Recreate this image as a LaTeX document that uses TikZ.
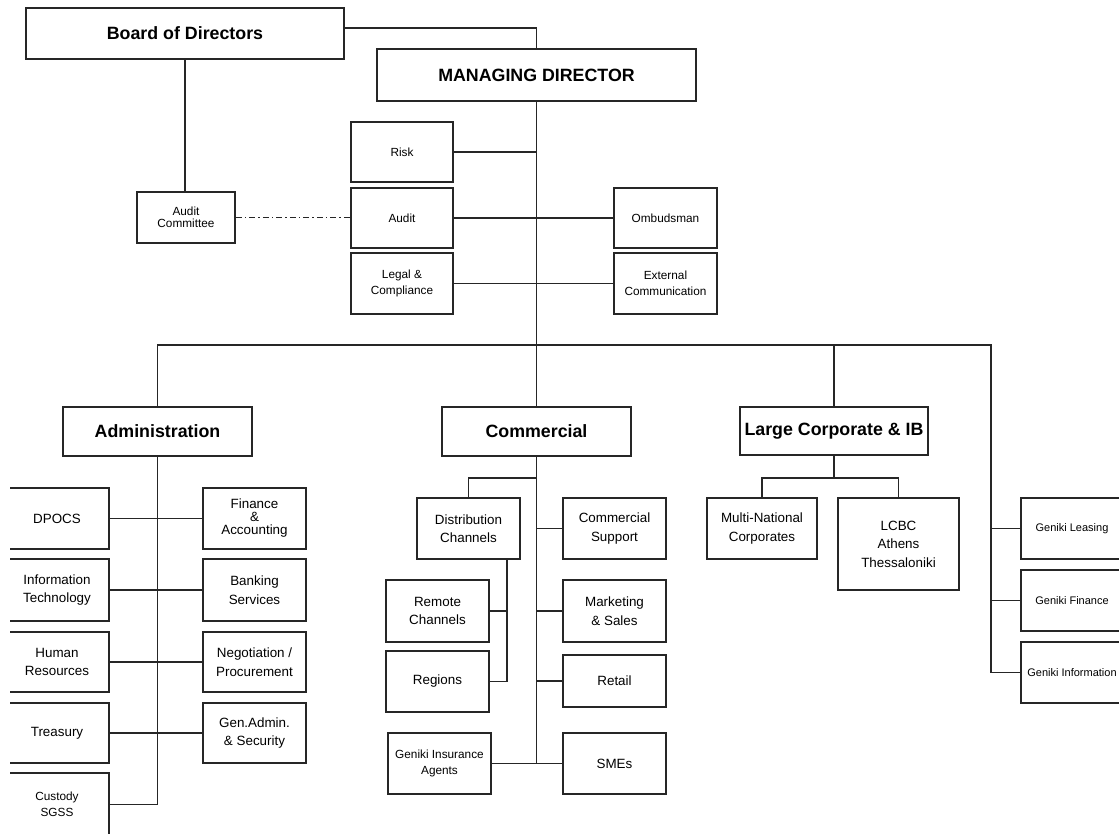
\documentclass[tikz,border=0pt]{standalone}
\usepackage{fontspec}
\setmainfont{Liberation Sans}
\begin{document}
\begin{tikzpicture}[x=1pt,y=-1pt,
  box/.style={draw=black!85, line width=1.6pt, fill=white, inner sep=1pt, align=center},
  head/.style={box, font=\bfseries\fontsize{17.8}{20}\selectfont},
  unit/.style={box, minimum width=103, minimum height=61, font=\fontsize{13.4}{18.5}\selectfont},
  office/.style={box, minimum width=102, minimum height=60, font=\fontsize{11.8}{15.5}\selectfont},
  firm/.style={box, minimum width=102, minimum height=61, font=\fontsize{11}{14}\selectfont},
  link/.style={draw=black!85, line width=1.6pt},
  dotlink/.style={link, line width=1.4pt, dash pattern=on 6pt off 3pt on 1.5pt off 3pt}]
\useasboundingbox (0,0) rectangle (1119,833);
\clip (10,0) rectangle (1119,833);

\node[head, minimum width=318, minimum height=51] (board) at (185,33.5) {Board of Directors};
\node[head, minimum width=319, minimum height=52] (md) at (536.5,75) {MANAGING DIRECTOR};

\node[office, minimum width=98, minimum height=51] (auditc) at (186,217.5) {Audit\\[-3.5pt]Committee};
\node[office] (risk) at (402,152) {Risk};
\node[office] (audit) at (402,218) {Audit};
\node[office, minimum height=61] (legal) at (402,283.5) {Legal \&\\Compliance};
\node[office, minimum width=103] (ombud) at (665.5,218) {Ombudsman};
\node[office, minimum width=103, minimum height=61] (extcom) at (665.5,283.5) {External\\Communication};

\node[head, minimum width=189, minimum height=49] (admin) at (157.5,431.5) {Administration};
\node[head, minimum width=189, minimum height=49] (comm) at (536.5,431.5) {Commercial};
\node[head, minimum width=188, minimum height=48] (lcib) at (834,431) {Large Corporate \& IB};

\node[unit, minimum width=104] (dpocs) at (57,518.5) {DPOCS};
\node[unit, minimum width=104, minimum height=62] (infotech) at (57,590) {Information\\Technology};
\node[unit, minimum width=104, minimum height=60] (hr) at (57,662) {Human\\Resources};
\node[unit, minimum width=104, minimum height=60] (treas) at (57,733) {Treasury};
\node[office, minimum width=104, minimum height=63] (cust) at (57,804.5) {Custody\\SGSS};
\node[unit] (finacc) at (254.5,518.5) {Finance\\[-5.5pt]\&\\[-5.5pt]Accounting};
\node[unit, minimum height=62] (banking) at (254.5,590) {Banking\\Services};
\node[unit, minimum height=60] (procure) at (254.5,662) {Negotiation /\\Procurement};
\node[unit, minimum height=60] (genadm) at (254.5,733) {Gen.Admin.\\\& Security};

\node[unit] (dist) at (468.5,528.5) {Distribution\\Channels};
\node[unit, minimum height=62] (remote) at (437.5,611) {Remote\\Channels};
\node[unit] (regions) at (437.5,681.5) {Regions};
\node[office, minimum width=103, minimum height=61] (gia) at (439.5,763.5) {Geniki Insurance\\Agents};
\node[unit] (csup) at (614.5,528.5) {Commercial\\Support};
\node[unit, minimum height=62] (mksales) at (614.5,611) {Marketing\\\& Sales};
\node[unit, minimum height=52] (retail) at (614.5,681) {Retail};
\node[unit] (smes) at (614.5,763.5) {SMEs};

\node[unit, minimum width=110] (mnc) at (762,528.5) {Multi-National\\Corporates};
\node[unit, minimum width=121, minimum height=92] (lcbc) at (898.5,544) {LCBC\\Athens\\Thessaloniki};

\node[firm] (gleas) at (1072,528.5) {Geniki Leasing};
\node[firm] (gfin) at (1072,600.5) {Geniki Finance};
\node[firm] (ginfo) at (1072,672.5) {Geniki Information};

\draw[link] ([yshift=5.5pt]board.east) -| (md.north);
\draw[link] (board.south) -- (board.south |- auditc.north);
\draw[dotlink] (auditc.east) -- (auditc.east -| audit.west);
\draw[link] (md.south) -- (comm.north);
\draw[link] (risk.east) -- (risk.east -| md.south);
\draw[link] (audit.east) -- (ombud.west);
\draw[link] (legal.east) -- (extcom.west);

\coordinate (gtop) at (991,345);
\draw[link] (admin.north) |- (gtop) |- (ginfo.west);
\draw[link] (lcib.north) -- (lcib.north |- gtop);
\draw[link] (gleas.west) -- (gleas.west -| gtop);
\draw[link] (gfin.west) -- (gfin.west -| gtop);

\draw[link] (admin.south) |- (cust.east);
\draw[link] (dpocs.east) -- (finacc.west);
\draw[link] (infotech.east) -- (banking.west);
\draw[link] (hr.east) -- (procure.west);
\draw[link] (treas.east) -- (genadm.west);

\draw[link] (comm.south) -- (comm.south |- smes.west);
\draw[link] (gia.east) -- (smes.west);
\draw[link] (comm.south) -- ++(0,21) -| (dist.north);
\coordinate (dspine) at ([xshift=38.5pt]dist.south);
\draw[link] (dspine) |- (regions.east);
\draw[link] (remote.east) -- (remote.east -| dspine);
\draw[link] (csup.west) -- (csup.west -| comm.south);
\draw[link] (mksales.west) -- (mksales.west -| comm.south);
\draw[link] (retail.west) -- (retail.west -| comm.south);

\draw[link] (lcib.south) -- ++(0,22) coordinate (lcfork);
\draw[link] (mnc.north) |- (lcfork) -| (lcbc.north);
\end{tikzpicture}
\end{document}
